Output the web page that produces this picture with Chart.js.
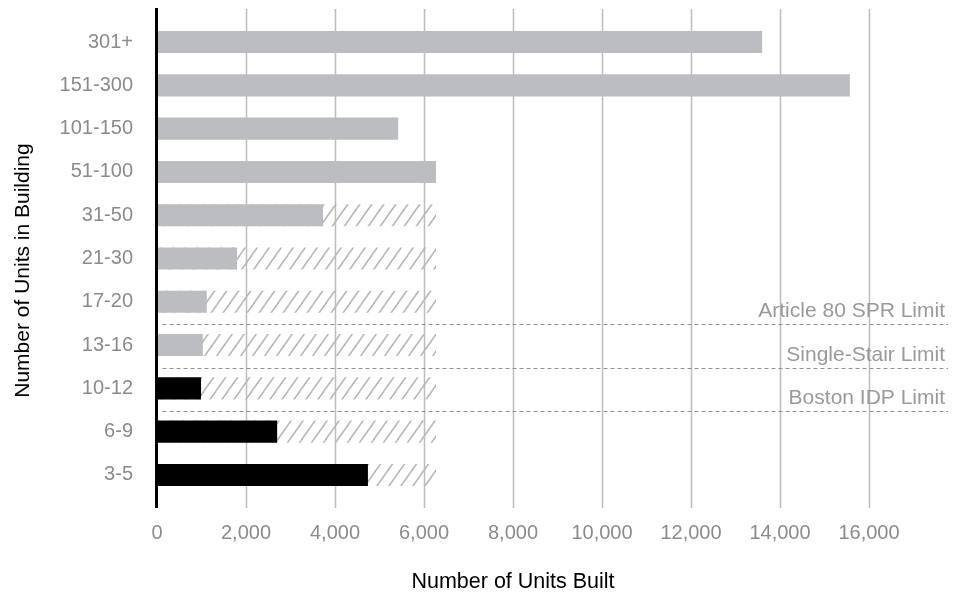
<!DOCTYPE html>
<html>
<head>
<meta charset="utf-8">
<script src="https://cdn.jsdelivr.net/npm/chart.js@4"></script>
<style>
  html, body { margin: 0; padding: 0; background: #fff; }
  #wrap { width: 959px; height: 596px; }
</style>
</head>
<body>
<div id="wrap"><canvas id="chart" width="959" height="596"></canvas></div>
<script>
// data
const categories = ['301+', '151-300', '101-150', '51-100', '31-50', '21-30', '17-20', '13-16', '10-12', '6-9', '3-5'];
const unitsBuilt = [13600, 15570, 5420, 6270, 3730, 1800, 1120, 1030, 990, 2700, 4740];
const potentialUnits = [null, null, null, null, 6270, 6270, 6270, 6270, 6270, 6270, 6270];
const blackCategories = ['10-12', '6-9', '3-5'];
const xTicks = [0, 2000, 4000, 6000, 8000, 10000, 12000, 14000, 16000];
const limitLabels = ['Article 80 SPR Limit', 'Single-Stair Limit', 'Boston IDP Limit'];
const limitAfter = ['17-20', '13-16', '10-12'];
const yTitle = 'Number of Units in Building';

const FONT = '"Liberation Sans", Arial, Helvetica, sans-serif';
const GRAY_BAR = '#bcbdc1';
const TEXT_GRAY = '#8b8b8b';

// diagonal hatch for the "could have been built" bars
function makeHatch() {
  const w = 12, h = 17;
  const c = document.createElement('canvas');
  c.width = w; c.height = h;
  const g = c.getContext('2d');
  g.strokeStyle = '#b9b9b9';
  g.lineWidth = 1.6;
  for (let k = -1; k <= 1; k++) {
    g.beginPath();
    g.moveTo(k * w - w, 2 * h);
    g.lineTo(k * w + 2 * w, -h);
    g.stroke();
  }
  return g.createPattern(c, 'repeat');
}

const barColors = categories.map(c => blackCategories.includes(c) ? '#000000' : GRAY_BAR);

const extras = {
  id: 'extras',
  beforeDatasetsDraw(chart) {
    const { ctx, chartArea, scales: { x } } = chart;
    ctx.save();
    ctx.strokeStyle = '#bdbdbd';
    ctx.lineWidth = 1.5;
    xTicks.forEach(v => {
      if (v === 0) return;
      const px = Math.round(x.getPixelForValue(v)) + 0.5;
      ctx.beginPath();
      ctx.moveTo(px, chartArea.top - 11.5);
      ctx.lineTo(px, chartArea.bottom + 11.5);
      ctx.stroke();
    });
    ctx.restore();
  },
  afterDatasetsDraw(chart) {
    const { ctx, chartArea, scales: { x, y } } = chart;
    ctx.save();
    // black zero axis
    ctx.strokeStyle = '#000';
    ctx.lineWidth = 3;
    const x0 = x.getPixelForValue(0) - 0.5;
    ctx.beginPath();
    ctx.moveTo(x0, chartArea.top - 12.5);
    ctx.lineTo(x0, chartArea.bottom + 11.5);
    ctx.stroke();

    // dashed limit lines with labels
    ctx.font = '21px ' + FONT;
    ctx.textAlign = 'right';
    ctx.textBaseline = 'alphabetic';
    limitAfter.forEach((cat, i) => {
      const idx = categories.indexOf(cat);
      const ly = Math.round((y.getPixelForValue(idx) + y.getPixelForValue(idx + 1)) / 2 + 1) + 0.5;
      ctx.strokeStyle = '#8f8f8f';
      ctx.lineWidth = 1;
      ctx.setLineDash([4, 3]);
      ctx.beginPath();
      ctx.moveTo(x0 + 6, ly);
      ctx.lineTo(948, ly);
      ctx.stroke();
      ctx.setLineDash([]);
      ctx.fillStyle = '#9a9a9a';
      ctx.fillText(limitLabels[i], 945, ly - 8);
    });

    // y axis title, sits a bit below the plot centre in the original
    ctx.translate(23, (chartArea.top + chartArea.bottom) / 2 + 12);
    ctx.rotate(-Math.PI / 2);
    ctx.font = '21px ' + FONT;
    ctx.fillStyle = '#000';
    ctx.textAlign = 'center';
    ctx.textBaseline = 'middle';
    ctx.fillText(yTitle, 0, 0);
    ctx.restore();
  }
};

new Chart(document.getElementById('chart'), {
  type: 'bar',
  data: {
    labels: categories,
    datasets: [
      {
        label: 'Units built',
        data: unitsBuilt,
        backgroundColor: barColors,
        borderWidth: 0,
        grouped: false,
        categoryPercentage: 1,
        barPercentage: 0.51
      },
      {
        label: 'Potential',
        data: potentialUnits,
        backgroundColor: makeHatch(),
        borderWidth: 0,
        grouped: false,
        categoryPercentage: 1,
        barPercentage: 0.51
      }
    ]
  },
  options: {
    indexAxis: 'y',
    responsive: false,
    animation: false,
    devicePixelRatio: 1,
    layout: { padding: { top: 20.4, right: 90, bottom: 0, left: 0 } },
    plugins: {
      legend: { display: false },
      tooltip: { enabled: false }
    },
    scales: {
      x: {
        min: 0,
        max: 16000,
        afterFit: s => { s.height = 99.4; s.paddingLeft = 0; s.paddingRight = 0; },
        afterBuildTicks: s => { s.ticks = xTicks.map(v => ({ value: v })); },
        grid: { display: false, drawTicks: false },
        border: { display: false },
        ticks: {
          padding: 25,
          color: TEXT_GRAY,
          font: { family: FONT, size: 20 },
          callback: v => Number(v).toLocaleString('en-US')
        },
        title: {
          display: true,
          text: 'Number of Units Built',
          color: '#000',
          font: { family: FONT, size: 21.5 },
          padding: { top: 0, bottom: 1 }
        }
      },
      y: {
        afterFit: s => { s.width = 157; s.paddingTop = 0; s.paddingBottom = 0; },
        grid: { display: false, drawTicks: false },
        border: { display: false },
        ticks: {
          padding: 24,
          color: TEXT_GRAY,
          font: { family: FONT, size: 20 }
        }
      }
    }
  },
  plugins: [extras]
});
</script>
</body>
</html>
